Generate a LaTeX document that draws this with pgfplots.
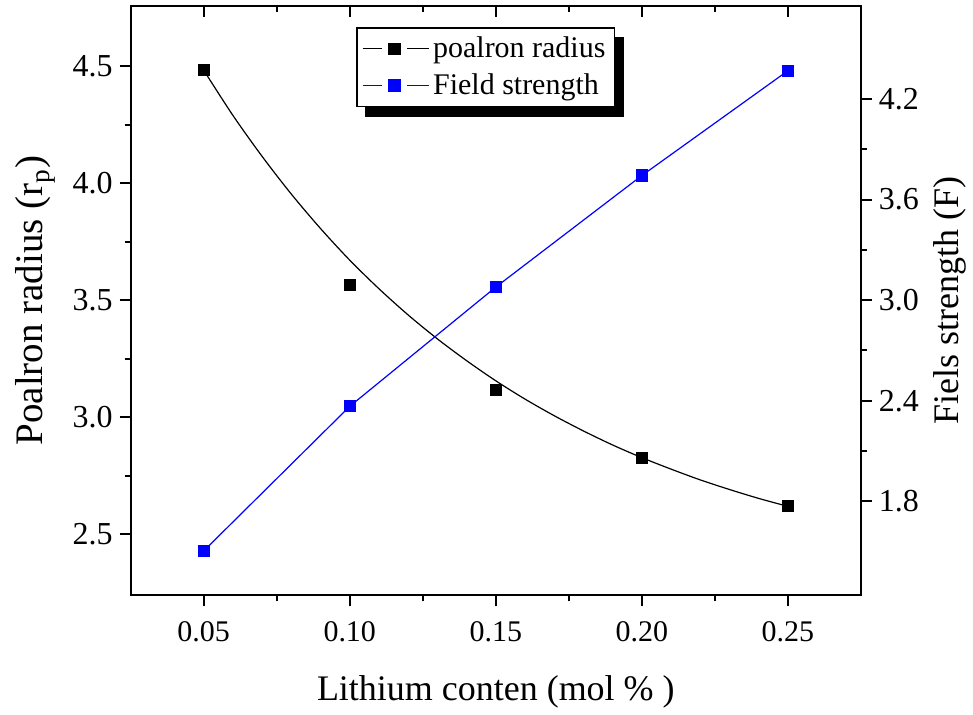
\documentclass[border=0pt]{standalone}
\usepackage{fontspec}
\setmainfont{Liberation Serif}
\usepackage{pgfplots}
\pgfplotsset{compat=1.18}
\usetikzlibrary{backgrounds}

\begin{document}
\begin{tikzpicture}
\pgfplotsset{
  common/.style={
    width=365.5pt, height=295pt, scale only axis,
    xmin=0.025, xmax=0.275,
    /pgf/number format/assume math mode=true,
    axis line style={line width=1pt},
    major tick length=5.5pt, minor tick length=3pt,
    every tick/.style={line width=1pt, black},
    xtick={0.05,0.10,0.15,0.20,0.25}, minor x tick num=1,
    x tick label style={font=\fontsize{15}{15}\selectfont},
    y tick label style={font=\fontsize{16}{16}\selectfont},
  }
}
\begin{axis}[common,
  ymin=2.24, ymax=4.756,
  ytick={2.5,3.0,3.5,4.0,4.5}, minor y tick num=1,
  xtick pos=bottom, ytick pos=left, tick align=outside,
  x tick label style={yshift=-4pt, /pgf/number format/.cd, fixed, fixed zerofill, precision=2},
  y tick label style={/pgf/number format/.cd, fixed, fixed zerofill, precision=1},
  xlabel={Lithium conten (mol \% )},
  ylabel={Poalron radius (r\textsubscript{p})},
  xlabel style={font=\fontsize{18}{18}\selectfont},
  ylabel style={font=\fontsize{19.5}{19.5}\selectfont},
  xlabel shift=10pt, ylabel shift=2pt,
]
% fitted curve
\addplot[black, line width=0.6pt, smooth] coordinates {
(0.05,4.482) (0.06,4.289) (0.07,4.114) (0.08,3.953) (0.09,3.806)
(0.10,3.671) (0.11,3.549) (0.12,3.437) (0.13,3.335) (0.14,3.242)
(0.15,3.156) (0.16,3.078) (0.17,3.007) (0.18,2.942) (0.19,2.882)
(0.20,2.828) (0.21,2.779) (0.22,2.733) (0.23,2.692) (0.24,2.654)
(0.25,2.620)};
\addplot[only marks, mark=square*, mark size=2.75pt, black] coordinates {
(0.05,4.483) (0.10,3.564) (0.15,3.118) (0.20,2.825) (0.25,2.621)};
\end{axis}

\begin{scope}[overlay]
\begin{axis}[common,
  ymin=0, ymax=1,
  axis x line*=top, axis y line=none,
  xticklabels={}, tick align=inside,
]
\end{axis}
\end{scope}

\begin{axis}[common,
  axis x line=none, axis y line*=right,
  ymin=1.24, ymax=4.754,
  ytick={1.8,2.4,3.0,3.6,4.2}, minor y tick num=1,
  tick align=outside,
  y tick label style={/pgf/number format/.cd, fixed, fixed zerofill, precision=1},
  ylabel={Fiels strength (F)},
  ylabel style={font=\fontsize{18}{18}\selectfont},
  ylabel shift=0.5pt,
  legend image code/.code={
    \draw[#1, mark=none] (0cm,0cm) -- (0.34cm,0cm);
    \draw[#1, mark=none] (0.78cm,0cm) -- (1.16cm,0cm);
    \draw[#1] plot coordinates {(0.56cm,0cm)};
  },
  legend style={name=leg, at={(rel axis cs:0.309,0.964)}, anchor=north west,
    draw=black, line width=0.7pt, fill=white,
    font=\fontsize{15}{17}\selectfont,
    inner xsep=2.5pt, inner ysep=2.5pt, row sep=2.5pt},
  legend cell align=left,
]
\addlegendimage{black, line width=0.6pt, mark=square*, mark size=2.75pt}
\addlegendentry{poalron radius}
\addplot[blue, line width=0.6pt, mark=square*, mark size=2.75pt] coordinates {
(0.05,1.505) (0.10,2.367) (0.15,3.078) (0.20,3.743) (0.25,4.368)};
\addlegendentry{Field strength}
\end{axis}

\begin{pgfonlayer}{background}
\fill[black] ([shift={(4.5pt,-5pt)}]leg.south west) rectangle ([shift={(4.5pt,-5pt)}]leg.north east);
\end{pgfonlayer}

\path ([shift={(-65.4pt,-55.5pt)}]current axis.south west)
      ([shift={(55.7pt,3pt)}]current axis.north east);
\end{tikzpicture}
\end{document}
